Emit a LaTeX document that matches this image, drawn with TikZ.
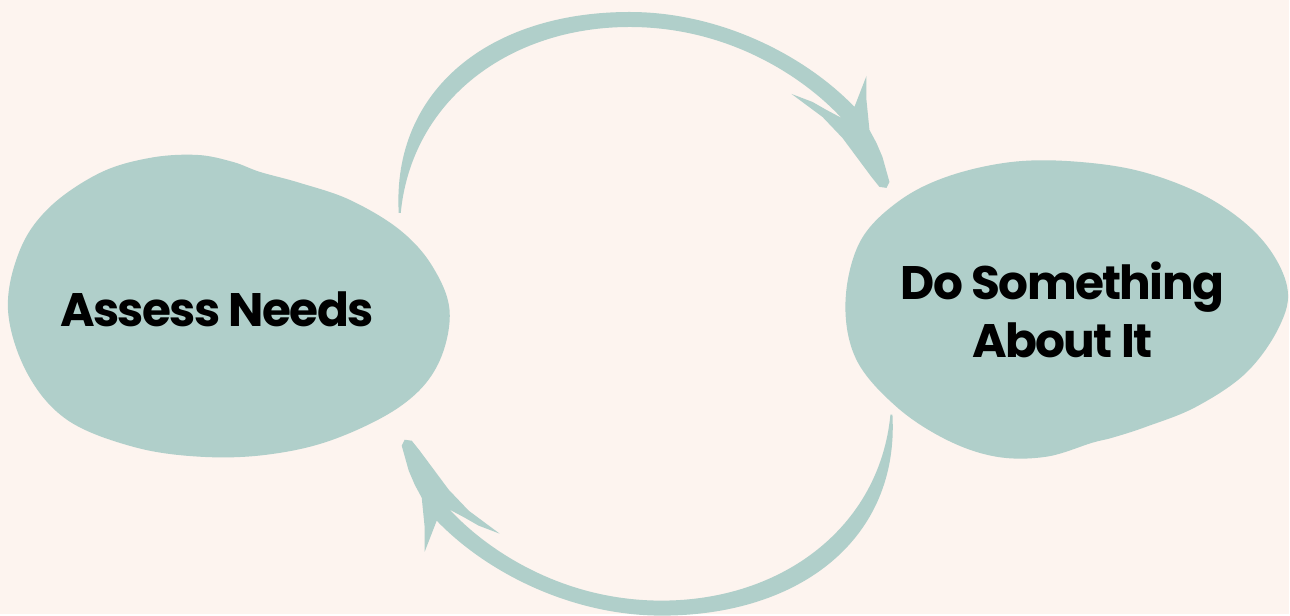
\documentclass[tikz,border=0pt]{standalone}
\usepackage{fontspec}
\setmainfont{Poppins}
\newfontfamily\blobfont{Poppins}[LetterSpace=-3.5]
\usetikzlibrary{calc}
\definecolor{bgcol}{RGB}{253,244,239}
\definecolor{blobcol}{RGB}{176,207,202}
\tikzset{
  blob/.style={fill=blobcol},
  brush/.style={fill=blobcol},
  blobtext/.style={font=\blobfont\bfseries\fontsize{47}{58}\selectfont, text=black, align=center},
}
% 筆で描いた矢印
\newcommand{\brusharrow}[1]{%
  \fill[brush,#1] (399,213)
    .. controls (392,90) and (490,12) .. (630,12)
    .. controls (720,12) and (805,55) .. (855,107)
    -- (867,76) -- (867,100) -- (870,130) -- (877,143) -- (883,157) -- (890,182)
    -- (887,188) -- (880,187) -- (872,177) -- (843,138) -- (823,117)
    -- (792,94) -- (813,102) -- (827,110) -- (842,118)
    .. controls (805,78) and (730,27) .. (630,27)
    .. controls (510,27) and (412,100) .. (401,213)
    -- cycle;}

\begin{document}
\begin{tikzpicture}[x=1pt,y=-1pt]

  \fill[bgcol] (0,0) rectangle (1290,614); %背景
  \coordinate (C) at (646,314); %矢印の回転中心

  % 左の塊
  \fill[blob] plot[smooth cycle, tension=0.6] coordinates {
    (8,310) (20,250) (50,207) (100,173) (150,158) (197,155) (233,162) (260,172)
    (300,183) (350,200) (400,230) (433,267) (450,313) (437,367) (400,407)
    (333,440) (267,455) (200,457) (133,447) (67,420) (27,373)};
  \node[blobtext, anchor=base] (assess) at (217,327) {Assess Needs};

  % 右の塊
  \fill[blob] plot[smooth cycle, tension=0.6] coordinates {
    (846,303) (860,243) (897,203) (947,177) (1013,162) (1080,162) (1147,173)
    (1213,200) (1263,240) (1288,287) (1280,327) (1247,373) (1197,407) (1147,427)
    (1113,438) (1093,443) (1047,457) (997,457) (947,440) (897,407) (857,360)};
  \node[blobtext, anchor=base] (act) at (1063,358) {Do Something\\About It};

  % 矢印
  \brusharrow{}
  \brusharrow{rotate around={180:(C)}}

\end{tikzpicture}
\end{document}
